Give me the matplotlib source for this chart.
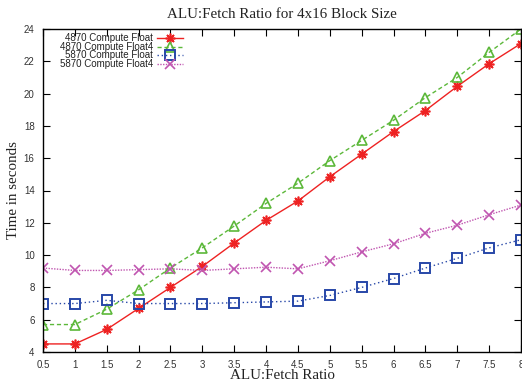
import matplotlib
matplotlib.use('Agg')
import matplotlib.pyplot as plt
from matplotlib.lines import Line2D

ratio = [0.5, 1, 1.5, 2, 2.5, 3, 3.5, 4, 4.5, 5, 5.5, 6, 6.5, 7, 7.5, 8]

f4870_float = [4.5, 4.5, 5.4, 6.7, 8.0, 9.3, 10.75, 12.15, 13.35, 14.85,
               16.25, 17.65, 18.95, 20.45, 21.85, 23.1]
f4870_float4 = [5.7, 5.7, 6.65, 7.85, 9.2, 10.45, 11.8, 13.2, 14.45, 15.85,
                17.1, 18.35, 19.75, 21.0, 22.55, 24.0]
f5870_float = [7.0, 7.0, 7.2, 7.0, 7.0, 7.0, 7.05, 7.1, 7.15, 7.5,
               8.0, 8.55, 9.2, 9.8, 10.45, 10.95]
f5870_float4 = [9.2, 9.05, 9.05, 9.1, 9.15, 9.05, 9.15, 9.25, 9.15, 9.65,
                10.2, 10.7, 11.35, 11.85, 12.5, 13.1]

labels = ['4870 Compute Float', '4870 Compute Float4',
          '5870 Compute Float', '5870 Compute Float4']
xticks = [0.5, 1, 1.5, 2, 2.5, 3, 3.5, 4, 4.5, 5, 5.5, 6, 6.5, 7, 7.5, 8]
xticklabels = ['0.5', '1', '1.5', '2', '2.5', '3', '3.5', '4', '4.5', '5',
               '5.5', '6', '6.5', '7', '7.5', '8']
yticks = [4, 6, 8, 10, 12, 14, 16, 18, 20, 22, 24]

styles = [
    dict(color='#ee2222', linestyle='-', marker=(8, 2, 0), markersize=7,
         markerfacecolor='none', markeredgewidth=1.2),
    dict(color='#5cb83a', linestyle=(0, (3, 2)), marker='^', markersize=6.5,
         markerfacecolor='none', markeredgewidth=1.2),
    dict(color='#2848a8', linestyle=(0, (1, 2)), marker='s', markersize=6.5,
         markerfacecolor='none', markeredgewidth=1.4),
    dict(color='#c055b0', linestyle=(0, (1, 1)), marker='x', markersize=6.5,
         markeredgewidth=1.2),
]
series = [f4870_float, f4870_float4, f5870_float, f5870_float4]

fig = plt.figure(figsize=(5.22, 3.83), dpi=100)
ax = fig.add_axes([43 / 522, 1 - 352 / 383, 478 / 522, 323 / 383])

for ys, st in zip(series, styles):
    ax.plot(ratio, ys, linewidth=1.0, **st)

ax.set_xlim(0.5, 8)
ax.set_ylim(4, 24)
ax.set_xticks(xticks)
ax.set_xticklabels(xticklabels)
ax.set_yticks(yticks)
ax.tick_params(direction='in', length=5, width=0.8, top=True, right=True,
               labelsize=7, labelcolor='#333333', pad=6)
for lab in ax.get_xticklabels() + ax.get_yticklabels():
    lab.set_fontfamily('Liberation Sans')
for s in ax.spines.values():
    s.set_linewidth(1.0)

ax.set_title('ALU:Fetch Ratio for 4x16 Block Size', fontfamily='Liberation Serif',
             fontsize=10.8, pad=8, color='#222222')
ax.set_xlabel('ALU:Fetch Ratio', fontfamily='Liberation Serif', fontsize=10.8,
              labelpad=-1, color='#222222')
ax.set_ylabel('Time in seconds', fontfamily='Liberation Serif', fontsize=10.8,
              labelpad=3, color='#222222')

# gnuplot-style key: labels right-justified, sample after the text
rows = [0.972, 0.945, 0.918, 0.891]
for y, lab, st in zip(rows, labels, styles):
    ax.text(0.230, y, lab, transform=ax.transAxes, ha='right', va='center',
            fontsize=7, fontfamily='Liberation Sans', color='#222222')
    ax.add_line(Line2D([0.238, 0.293], [y, y], transform=ax.transAxes,
                       linewidth=1.0, **{k: v for k, v in st.items() if k != 'marker'}))
    ax.add_line(Line2D([0.2655], [y], transform=ax.transAxes, linestyle='none',
                       **{k: v for k, v in st.items() if k != 'linestyle'}))

fig.savefig('out.png', dpi=100)
